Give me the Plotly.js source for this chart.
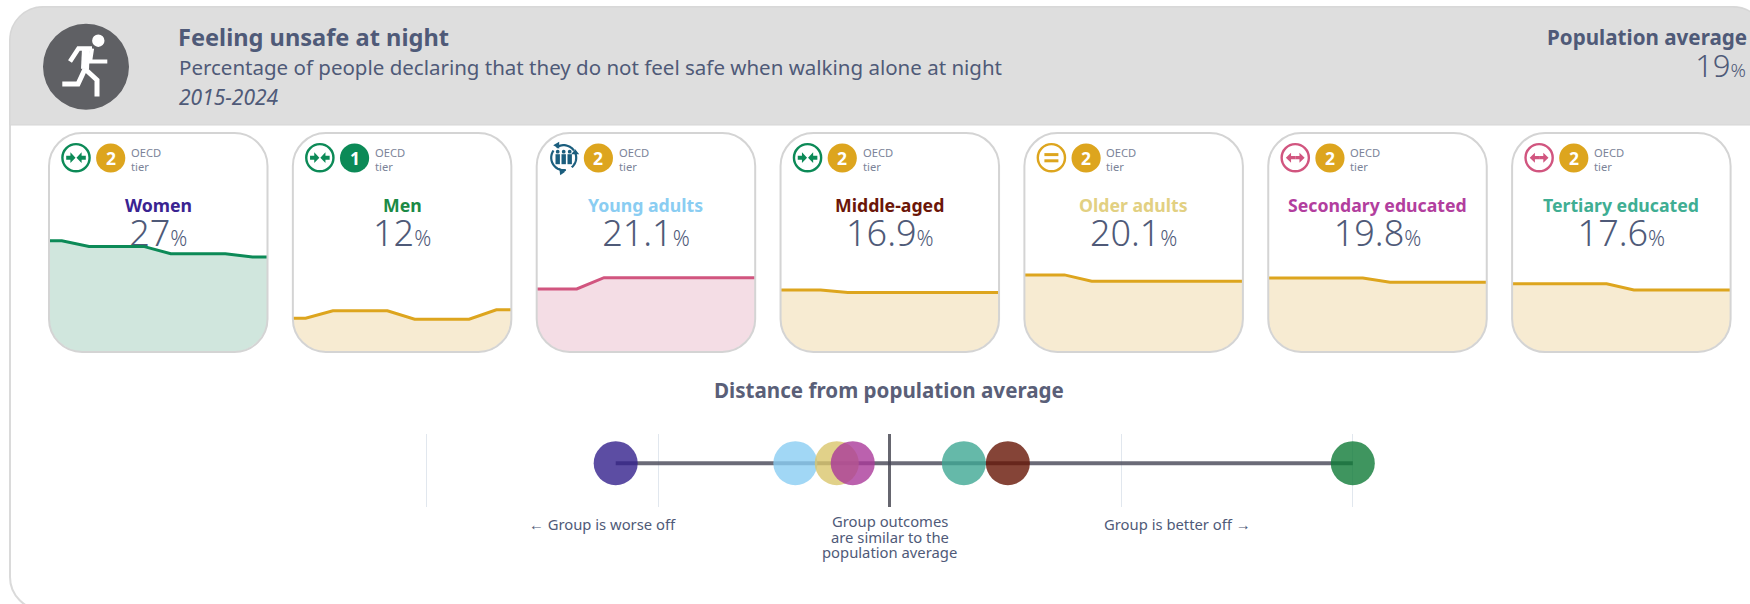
<!DOCTYPE html>
<html><head><meta charset="utf-8">
<script src="https://cdn.plot.ly/plotly-3.0.1.min.js"></script>
<style>html,body{margin:0;padding:0;background:#fff;overflow:hidden}#c{width:1750px;height:604px}</style>
</head><body><div id="c"></div>
<script>
// ---------- data ----------
const years = [2015,2016,2017,2018,2019,2020,2021,2022,2023,2024];
const groups = ["Women","Men","Young adults","Middle-aged","Older adults","Secondary educated","Tertiary educated"];
const latest = ["27","12","21.1","16.9","20.1","19.8","17.6"];
const tiers = [2,1,2,2,2,2,2];
const women = [31.6,31.6,30,30,30,27.9,27.9,27.9,27,27];
const men = [9.6,9.6,11.7,11.7,11.7,9.3,9.3,9.3,12,12];
const youngAdults = [17.9,17.9,17.9,21.1,21.1,21.1,21.1,21.1,21.1,21.1];
const middleAged = [17.6,17.6,17.6,16.9,16.9,16.9,16.9,16.9,16.9,16.9];
const olderAdults = [21.9,21.9,21.9,20.1,20.1,20.1,20.1,20.1,20.1,20.1];
const secondary = [21,21,21,21,21,19.8,19.8,19.8,19.8,19.8];
const tertiary = [19.4,19.4,19.4,19.4,19.4,17.6,17.6,17.6,17.6,17.6];
const distance = [-1.184,2,-0.408,0.51,-0.229,-0.16,0.32];
const distanceTicks = [-2,-1,0,1,2];
const popAverage = "19";

// ---------- styles ----------
const seriesList = [women,men,youngAdults,middleAged,olderAdults,secondary,tertiary];
const labelColors = ["#3A2391","#1B8A45","#8ACDF2","#6B1608","#E2D082","#B23E9E","#3FAE93"];
const dotColors = ["#33218C","#0F7A37","#8ACDF2","#671505","#DAC66C","#AA3A9A","#3FA893"];
const GREEN="#0C8A57", GOLD="#DDA51E", PINK="#D1557F", TEAL="#1B5E7E";
const lineColors=[GREEN,GOLD,PINK,GOLD,GOLD,GOLD,GOLD];
const fillColors=["#D0E6DD","#F7EBD2","#F4DDE5","#F7EBD2","#F7EBD2","#F7EBD2","#F7EBD2"];
const ringColors=[GREEN,GREEN,TEAL,GREEN,GOLD,PINK,PINK];
const ringKinds=["in","in","people","in","eq","out","out"];
const tierColors={1:GREEN,2:GOLD};
const TXT="#4F5A78", FONT="'Noto Sans', sans-serif";
const W=1750,H=604;
const cardW=218.5,cardT=133,cardB=352,cardPitch=243.85,card0=49,R=33;
const pxPerPct=3.52;

const shapes=[],annotations=[],traces=[];
function rr(x0,y0,x1,y1,r){const k=r*0.45;return `M${x0+r},${y0}L${x1-r},${y0}C${x1-k},${y0} ${x1},${y0+k} ${x1},${y0+r}L${x1},${y1-r}C${x1},${y1-k} ${x1-k},${y1} ${x1-r},${y1}L${x0+r},${y1}C${x0+k},${y1} ${x0},${y1-k} ${x0},${y1-r}L${x0},${y0+r}C${x0},${y0+k} ${x0+k},${y0} ${x0+r},${y0}Z`;}
function base(o){return Object.assign({xref:'x',yref:'y'},o);}
function path(p,fill,stroke,w,layer){shapes.push(base({type:'path',path:p,fillcolor:fill||'rgba(0,0,0,0)',line:{color:stroke||'rgba(0,0,0,0)',width:w||0},layer:layer||'above'}));}
function circle(cx,cy,r,fill,stroke,w,layer){shapes.push(base({type:'circle',x0:cx-r,x1:cx+r,y0:cy-r,y1:cy+r,fillcolor:fill,line:{color:stroke||'rgba(0,0,0,0)',width:w||0},layer:layer||'above'}));}
function poly(pts,stroke,w){path('M'+pts.map(p=>p[0]+','+p[1]).join('L'),null,stroke,w);}
function note(x,y,text,size,color,o){annotations.push(Object.assign({xref:'x',yref:'y',x,y,text,showarrow:false,xanchor:'center',yanchor:'middle',borderpad:0,font:{family:FONT,size,color}},o||{}));}

// panel
path(rr(10,7,1766,610,33),'#FFFFFF','#DADADA',2,'below');
const hdr=`M10,125L10,40C10,22 25,7 43,7L1733,7C1751,7 1766,22 1766,40L1766,125Z`;
path(hdr,'#DEDEDE','#D6D6D6',1,'below');
// header icon
circle(86,66.7,43,'#5F6064');
circle(98.3,40.7,6.2,'#FFFFFF');
poly([[70,61.5],[78.5,48.5],[92,48.5]],'#FFF',4.6);
poly([[92,48.5],[90,61.5],[107.3,61.5]],'#FFF',4.2);
poly([[86,48.5],[85,69]],'#FFF',8);
poly([[85,69],[78,84],[62.3,84]],'#FFF',5);
poly([[85,69],[97,80],[97,96.5]],'#FFF',5);

note(177,37,"<b>Feeling unsafe at night</b>",23.6,TXT,{xanchor:'left'});
note(177.5,67,"Percentage of people declaring that they do not feel safe when walking alone at night",20.5,TXT,{xanchor:'left'});
note(178,97,"<i>2015-2024</i>",21,TXT,{xanchor:'left'});
note(1748,37,"<b>Population average</b>",20.6,TXT,{xanchor:'right'});
traces.push({type:'scatter',mode:'text',xaxis:'x',yaxis:'y',x:[1746],y:[69],textposition:'middle left',cliponaxis:false,
  text:[`${popAverage}<span style="font-size:19px">%</span>`],textfont:{family:FONT,size:31,color:TXT,weight:300},hoverinfo:'skip',showlegend:false});

function ringIcon(cx,cy,kind,c){
  if(kind==='people'){
    const arc=(a0,a1,r)=>{const p=[];const n=14;for(let i=0;i<=n;i++){const a=(a0+(a1-a0)*i/n)*Math.PI/180;p.push([cx+r*Math.cos(a),cy+r*Math.sin(a)]);}return p;};
    poly(arc(-125,-35,12.5),c,2.2);
    poly(arc(-25,50,12.5),c,2.2);
    poly(arc(80,215,12.5),c,2.2);
    path(`M${cx+11.5},${cy-8.5}L${cx+7.5},${cy-3.5}L${cx+15.5},${cy-3.5}Z`,c);
    path(`M${cx-10.5},${cy-12.5}L${cx-4.5},${cy-16}L${cx-4.5},${cy-9}Z`,c);
    path(`M${cx+1.5},${cy+14}L${cx-4.5},${cy+10}L${cx-3.5},${cy+17.5}Z`,c);
    [-6,0,6].forEach(d=>{
      circle(cx+d,cy-6,1.9,c);
      path(`M${cx+d-2.2},${cy-3.5}L${cx+d+2.2},${cy-3.5}L${cx+d+2.2},${cy+6.5}L${cx+d-2.2},${cy+6.5}Z`,c);
    });
    return;
  }
  circle(cx,cy,13.6,'#FFFFFF',c,2.4);
  if(kind==='eq'){
    path(`M${cx-7},${cy-4.6}L${cx+7},${cy-4.6}L${cx+7},${cy-1.6}L${cx-7},${cy-1.6}Z`,c);
    path(`M${cx-7},${cy+1.6}L${cx+7},${cy+1.6}L${cx+7},${cy+4.6}L${cx-7},${cy+4.6}Z`,c);
  } else if(kind==='in'){
    [-1,1].forEach(s=>{
      path(`M${cx+s*0.5},${cy}L${cx+s*5.6},${cy-5.4}L${cx+s*5.6},${cy-2}L${cx+s*9.8},${cy-2}L${cx+s*9.8},${cy+2}L${cx+s*5.6},${cy+2}L${cx+s*5.6},${cy+5.4}Z`,c);
    });
  } else {
    [-1,1].forEach(s=>{
      path(`M${cx+s*9.4},${cy}L${cx+s*4.2},${cy-5}L${cx+s*4.2},${cy-1.6}L${cx},${cy-1.6}L${cx},${cy+1.6}L${cx+s*4.2},${cy+1.6}L${cx+s*4.2},${cy+5}Z`,c);
    });
  }
}

const layout={width:W,height:H,margin:{l:0,r:0,t:0,b:0},paper_bgcolor:'#FFFFFF',plot_bgcolor:'rgba(0,0,0,0)',showlegend:false,
  xaxis:{domain:[0,1],range:[0,W],visible:false,fixedrange:true},
  yaxis:{domain:[0,1],range:[H,0],visible:false,fixedrange:true}};

// value texts live in the base subplot so the sparkline fill paints over them, as in the reference
groups.forEach((g,i)=>{
  const L=card0+i*cardPitch,Rt=L+cardW,cx=(L+Rt)/2;
  traces.push({type:'scatter',mode:'text',xaxis:'x',yaxis:'y',x:[cx],y:[237],textposition:'middle center',cliponaxis:false,
    text:[`${latest[i]}<span style="font-size:21px">%</span>`],textfont:{family:FONT,size:36,color:TXT,weight:300},hoverinfo:'skip',showlegend:false});
});
groups.forEach((g,i)=>{
  const L=card0+i*cardPitch,Rt=L+cardW,cx=(L+Rt)/2,n=i+2;
  layout['xaxis'+n]={domain:[L/W,Rt/W],range:[2015.53,2023.55],visible:false,fixedrange:true,anchor:'y'+n};
  layout['yaxis'+n]={domain:[(H-cardB)/H,(H-cardT)/H],range:[0,(cardB-cardT)/pxPerPct],visible:false,fixedrange:true,anchor:'x'+n};
  traces.push({type:'scatter',mode:'lines',xaxis:'x'+n,yaxis:'y'+n,x:years,y:seriesList[i],fill:'tozeroy',fillcolor:fillColors[i],
    line:{color:lineColors[i],width:3,shape:'linear'},hoverinfo:'skip',showlegend:false,name:g});
  // white corner masks + card outline
  path(`M${L-1},${cardB-R}L${L},${cardB-R}C${L},${cardB-R*.45} ${L+R*.55},${cardB} ${L+R},${cardB}L${L+R},${cardB+1.5}L${L-1},${cardB+1.5}Z`,'#FFFFFF');
  path(`M${Rt+1},${cardB-R}L${Rt},${cardB-R}C${Rt},${cardB-R*.45} ${Rt-R*.55},${cardB} ${Rt-R},${cardB}L${Rt-R},${cardB+1.5}L${Rt+1},${cardB+1.5}Z`,'#FFFFFF');
  path(rr(L,cardT,Rt,cardB,R),null,'#D4D4D4',2);
  // badges
  ringIcon(L+27,157.7,ringKinds[i],ringColors[i]);
  circle(L+61.7,158,14.6,tierColors[tiers[i]]);
  note(L+61.7,158,`<b>${tiers[i]}</b>`,17.5,'#FFFFFF');
  note(L+81,152.5,"OECD",11.2,'#7B8398',{xanchor:'left'});
  note(L+81,166,"tier",11.2,'#7B8398',{xanchor:'left'});
  note(cx,204.5,`<b>${g}</b>`,17.7,labelColors[i]);
});

// distance strip: the axis runs a little wider than the ticks so the outer gridlines draw
const tickPx=231.5,zeroPx=889.8;
layout.xaxis9={domain:[(zeroPx-2.2*tickPx)/W,(zeroPx+2.2*tickPx)/W],range:[-2.2,2.2],anchor:'y9',tickmode:'array',tickvals:distanceTicks,showticklabels:false,ticks:'',
  showgrid:true,gridcolor:'#E1E7EE',gridwidth:1,zeroline:true,zerolinecolor:'#66666F',zerolinewidth:3.2,showline:false,fixedrange:true};
layout.yaxis9={domain:[(H-507)/H,(H-434)/H],range:[-1.2,0.8],anchor:'x9',visible:false,fixedrange:true};
traces.push({type:'scatter',mode:'lines',xaxis:'x9',yaxis:'y9',x:[Math.min(...distance),Math.max(...distance)],y:[0,0],
  line:{color:'rgba(70,70,85,0.8)',width:4},hoverinfo:'skip',showlegend:false,cliponaxis:false});
groups.forEach((g,i)=>{
  traces.push({type:'scatter',mode:'markers',xaxis:'x9',yaxis:'y9',x:[distance[i]],y:[0],cliponaxis:false,name:g,
    marker:{size:44,color:dotColors[i],opacity:0.8,line:{width:0}},hoverinfo:'skip',showlegend:false});
});
note(889,389.5,"<b>Distance from population average</b>",20.6,'#5A5F78');
note(602,524,"← Group is worse off",14.8,TXT);
note(1177,524,"Group is better off →",14.8,TXT);
note(889.8,521,"Group outcomes",14.8,TXT);
note(889.8,536.5,"are similar to the",14.8,TXT);
note(889.8,551.5,"population average",14.8,TXT);

layout.shapes=shapes;layout.annotations=annotations;
Plotly.newPlot('c',traces,layout,{displayModeBar:false,responsive:false,staticPlot:true});
</script></body></html>
